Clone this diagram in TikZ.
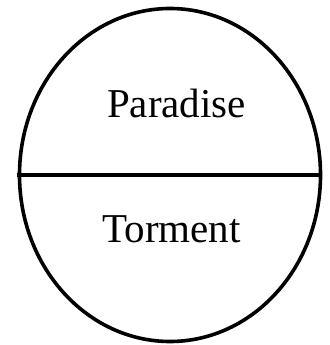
\documentclass[tikz,border=0pt]{standalone}
\usepackage{fontspec}
\setmainfont{Liberation Serif}
\usetikzlibrary{shapes.geometric, positioning}
\tikzset{
  outline/.style={draw=black, line width=3.6pt},
  label/.style={font=\fontsize{41}{44}\selectfont, anchor=base, inner sep=0pt}
}

\begin{document}
\begin{tikzpicture}[x=1pt, y=1pt]
  \useasboundingbox (0,0) rectangle (329,345);
  \node [outline, ellipse, inner sep=0pt, minimum width=301pt, minimum height=333pt] (world) at (170,170) {};
  \node [label] (paradise) at (176.5,227) {Paradise};
  \node [label] (torment) at (171.5,102) {Torment};

  \draw [outline, line width=4pt] ([xshift=-1pt]world.west) -- (world.east);
\end{tikzpicture}
\end{document}
